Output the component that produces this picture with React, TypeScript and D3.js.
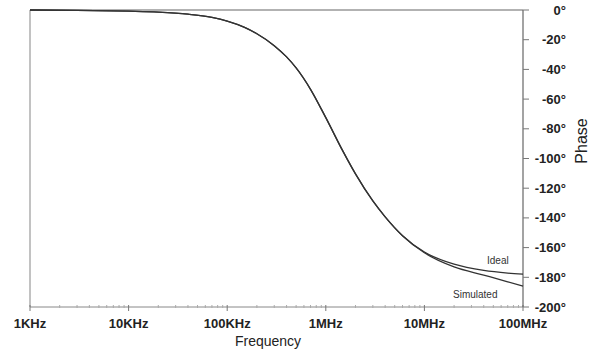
import React, { useRef, useEffect } from "react";
import * as d3 from "d3";

// frequency points (Hz)
const freqs = [
  1e3, 3e3, 1e4, 2e4, 4e4, 7e4, 1e5, 1.5e5, 2e5, 3e5, 4e5, 5e5, 7e5,
  1e6, 1.5e6, 2e6, 3e6, 4e6, 6e6, 1e7, 2e7, 4e7, 7e7, 1e8,
];
const idealPhase = [
  0, -0.2, -0.8, -1.4, -2.8, -5, -7.5, -11.7, -16, -24, -31.6, -39, -53.4,
  -72.5, -95.4, -110.4, -128.6, -139.3, -152, -163, -171.2, -175.4, -177.2, -177.9,
];
const simulatedPhase = [
  0, -0.2, -0.8, -1.4, -2.8, -5, -7.5, -11.7, -16, -24, -31.6, -39, -53.4,
  -72.5, -95.4, -110.4, -128.6, -139.3, -152, -163.5, -173, -178.5, -183, -186,
];
const xTickValues = [1e3, 1e4, 1e5, 1e6, 1e7, 1e8];
const xTickLabels = ["1KHz", "10KHz", "100KHz", "1MHz", "10MHz", "100MHz"];
const yTickValues = [0, -20, -40, -60, -80, -100, -120, -140, -160, -180, -200];

export default function App() {
  const ref = useRef<SVGSVGElement>(null);

  useEffect(() => {
    if (!ref.current) return;
    const svg = d3.select(ref.current);
    svg.selectAll("*").remove();

    const w = 593;
    const h = 358;
    const margin = { top: 10, right: 70, bottom: 51, left: 30 };
    const font = "Liberation Sans, Arial, sans-serif";

    const x = d3.scaleLog().domain([1e3, 1e8]).range([margin.left, w - margin.right]);
    const y = d3.scaleLinear().domain([-200, 0]).range([h - margin.bottom, margin.top]);

    svg.append("rect").attr("width", w).attr("height", h).attr("fill", "#fff");

    // frame: top and left borders
    svg.append("line")
      .attr("x1", x(1e3)).attr("x2", x(1e8))
      .attr("y1", y(0)).attr("y2", y(0))
      .attr("stroke", "#999").attr("stroke-width", 1.5);
    svg.append("line")
      .attr("x1", x(1e3)).attr("x2", x(1e3))
      .attr("y1", y(0)).attr("y2", y(-200))
      .attr("stroke", "#999").attr("stroke-width", 1.2);

    // bottom axis
    const gx = svg.append("g");
    gx.append("line")
      .attr("x1", x(1e3)).attr("x2", x(1e8))
      .attr("y1", y(-200)).attr("y2", y(-200))
      .attr("stroke", "#888").attr("stroke-width", 1);
    const minor: number[] = [];
    for (let dec = 1e3; dec < 1e8; dec *= 10) {
      for (let k = 2; k <= 9; k++) minor.push(dec * k);
    }
    gx.selectAll(".minor")
      .data(minor)
      .enter()
      .append("line")
      .attr("x1", d => x(d)).attr("x2", d => x(d))
      .attr("y1", y(-200) - 2).attr("y2", y(-200) + 1)
      .attr("stroke", "#aaa");
    gx.selectAll(".major")
      .data(xTickValues)
      .enter()
      .append("line")
      .attr("x1", d => x(d)).attr("x2", d => x(d))
      .attr("y1", y(-200) - 2).attr("y2", y(-200) + 4)
      .attr("stroke", "#777");
    gx.selectAll(".lbl")
      .data(xTickValues)
      .enter()
      .append("text")
      .attr("x", d => x(d))
      .attr("y", 328)
      .attr("text-anchor", "middle")
      .style("font-family", font)
      .style("font-size", "13px")
      .style("font-weight", "bold")
      .attr("fill", "#222")
      .text((_, i) => xTickLabels[i]);
    svg.append("text")
      .attr("x", 268)
      .attr("y", 346)
      .attr("text-anchor", "middle")
      .style("font-family", font)
      .style("font-size", "14px")
      .attr("fill", "#222")
      .text("Frequency");

    // right axis
    const ax = x(1e8);
    const gy = svg.append("g");
    gy.append("line")
      .attr("x1", ax).attr("x2", ax)
      .attr("y1", y(0)).attr("y2", y(-200))
      .attr("stroke", "#666").attr("stroke-width", 1.2);
    gy.selectAll(".tick")
      .data(yTickValues)
      .enter()
      .append("line")
      .attr("x1", ax).attr("x2", ax + 6)
      .attr("y1", d => y(d)).attr("y2", d => y(d))
      .attr("stroke", "#777");
    gy.selectAll(".lbl")
      .data(yTickValues)
      .enter()
      .append("text")
      .attr("x", 566)
      .attr("y", d => y(d) + 4.5)
      .attr("text-anchor", "end")
      .style("font-family", font)
      .style("font-size", "13px")
      .style("font-weight", "bold")
      .attr("fill", "#222")
      .text(d => `${d}°`);
    svg.append("text")
      .attr("transform", "translate(587,141) rotate(-90)")
      .attr("text-anchor", "middle")
      .style("font-family", font)
      .style("font-size", "16px")
      .attr("fill", "#222")
      .text("Phase");

    // curves
    const line = d3.line<number>()
      .x((_, i) => x(freqs[i]))
      .y(d => y(d))
      .curve(d3.curveMonotoneX);
    svg.append("path")
      .attr("d", line(idealPhase))
      .attr("fill", "none")
      .attr("stroke", "#333")
      .attr("stroke-width", 1.3);
    svg.append("path")
      .attr("d", line(simulatedPhase))
      .attr("fill", "none")
      .attr("stroke", "#333")
      .attr("stroke-width", 1.3);

    // series labels
    svg.append("text")
      .attr("x", 487)
      .attr("y", 264)
      .style("font-family", font)
      .style("font-size", "10px")
      .attr("fill", "#333")
      .text("Ideal");
    svg.append("text")
      .attr("x", 453)
      .attr("y", 298)
      .style("font-family", font)
      .style("font-size", "10px")
      .attr("fill", "#333")
      .text("Simulated");
  }, []);

  return (
    <svg
      ref={ref}
      width={593}
      height={358}
      style={{ position: "absolute", left: 0, top: 0 }}
    />
  );
}
